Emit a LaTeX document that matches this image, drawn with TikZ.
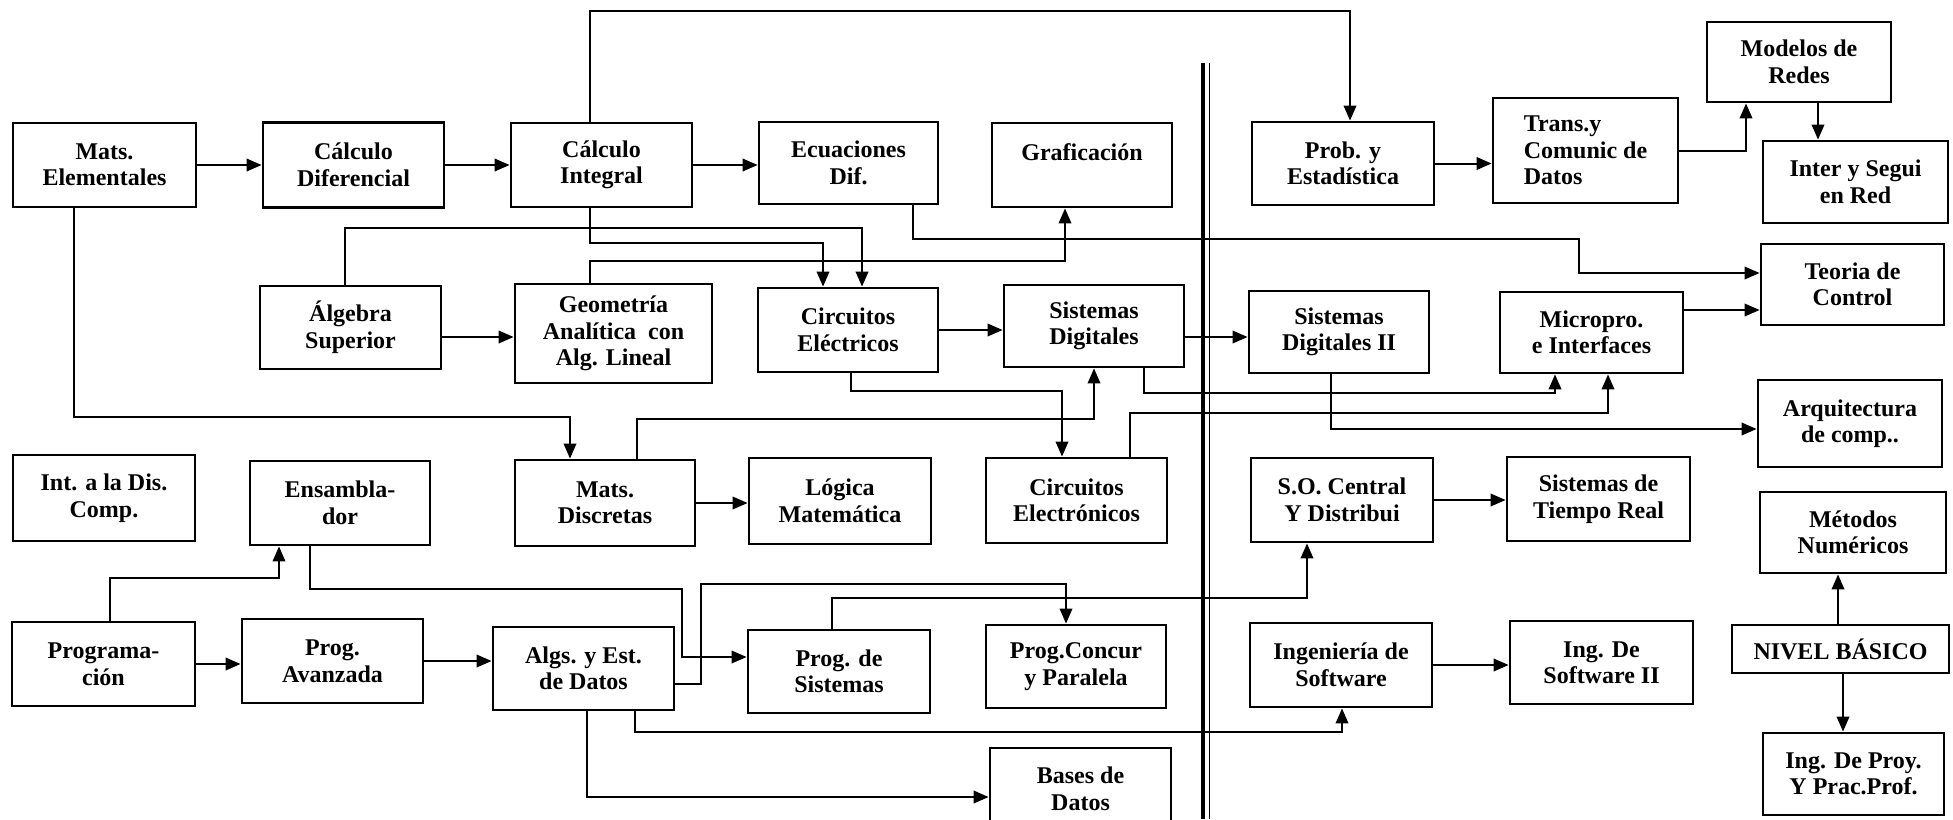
\documentclass[tikz,border=0pt]{standalone}
\usepackage{fontspec}
\setmainfont{Liberation Serif}
\usetikzlibrary{arrows.meta}
\newcommand\mybox[6]{\node[box,minimum width=#4pt,minimum height=#5pt] (#1) at (#2,#3) {#6};}
\begin{document}
\begin{tikzpicture}[x=1pt,y=-1pt,
  box/.style={draw, line width=2.8pt, inner sep=0pt, align=center, fill=white,
    font=\bfseries\fontsize{24}{26.5}\selectfont},
  arr/.style={line width=2pt, -{Triangle[length=15pt,width=12.5pt]}},
  divider/.style={line width=4pt}]
\fill[white] (0,0) rectangle (1953,819);
\clip (0,0) rectangle (1953,819);
% divider
\draw[divider] (1203,63) -- (1203,819);
\draw[line width=1.8pt] (1209.5,63) -- (1209.5,819);
% boxes
\mybox{me}{104.5}{165}{183}{84}{Mats.\\Elementales}
\mybox{cd}{353.5}{165}{181}{85}{Cálculo\\Diferencial}
\mybox{ci}{601.5}{165}{181}{84}{Cálculo\\Integral}
\mybox{ed}{848.5}{163}{179}{82}{Ecuaciones\\Dif.}
\mybox{gr}{1082}{165}{180}{84}{Graficación\\\mbox{}}
\mybox{pe}{1343}{163.5}{182}{83}{Prob. y\\Estadística}
\node[box,align=left,minimum width=185pt,minimum height=105pt] (tc) at (1585.5,150.5) {Trans.y\\Comunic de\\Datos};
\mybox{mr}{1799}{62}{184}{80}{Modelos de\\Redes}
\mybox{ir}{1855.5}{182}{185}{82}{Inter y Segui\\en Red}
\mybox{tcn}{1852.5}{284.5}{183}{81}{Teoria de\\Control}
\mybox{as}{350.5}{327.5}{181}{83}{Álgebra\\Superior}
\mybox{ga}{613.5}{333.5}{197}{99}{Geometría\\Analítica~ con\\Alg. Lineal}
\mybox{ce}{848}{330}{180}{84}{Circuitos\\Eléctricos}
\mybox{sd}{1094}{326}{180}{82}{Sistemas\\Digitales}
\mybox{sd2}{1339}{332}{180}{82}{Sistemas\\Digitales II}
\mybox{mi}{1591.5}{332.5}{183}{81}{Micropro.\\e Interfaces}
\mybox{ar}{1850}{423.5}{184}{87}{Arquitectura\\de comp..}
\mybox{id}{104}{498}{182}{86}{Int. a la Dis.\\Comp.}
\mybox{en}{340}{503}{180}{84}{Ensambla-\\dor}
\mybox{md}{605}{503}{180}{86}{Mats.\\Discretas}
\mybox{lm}{840}{501}{182}{86}{Lógica\\Matemática}
\mybox{cel}{1076.5}{500.5}{181}{85}{Circuitos\\Electrónicos}
\mybox{so}{1342}{500}{182}{84}{S.O. Central\\Y Distribui}
\mybox{str}{1598.5}{499}{183}{84}{Sistemas de\\Tiempo Real}
\mybox{mn}{1853}{532.5}{186}{81}{Métodos\\Numéricos}
\mybox{pr}{103.5}{664}{183}{84}{Programa-\\ción}
\mybox{pa}{332.5}{661}{181}{84}{Prog.\\Avanzada}
\mybox{ae}{583.5}{668.5}{181}{83}{Algs. y Est.\\de Datos}
\mybox{ps}{839}{671.5}{182}{83}{Prog. de\\Sistemas}
\mybox{pc}{1076}{666.5}{180}{83}{Prog.Concur\\y Paralela}
\mybox{is}{1341}{665}{182}{84}{Ingeniería de\\Software}
\mybox{is2}{1601.5}{662.5}{183}{83}{Ing. De\\Software II}
\mybox{nb}{1840.5}{649}{217}{48}{NIVEL BÁSICO}
\mybox{ip}{1853.5}{774}{181}{82}{Ing. De Proy.\\Y Prac.Prof.}
\mybox{bd}{1080.5}{789}{181}{82}{Bases de\\Datos}
% connectors
\draw[arr] (me.east) -- (me.east -| cd.west);
\draw[arr] (cd.east) -- (cd.east -| ci.west);
\draw[arr] (ci.east) -- (ci.east -| ed.west);
\draw[arr] ([xshift=-11.5pt]ci.north) |- ([xshift=7pt,yshift=110pt]pe.north) -- ([xshift=7pt]pe.north);
\draw[arr] (pe.east) -- (pe.east -| tc.west);
\draw[arr] (tc.east) -| ([xshift=-53pt]mr.south);
\draw[arr] ([xshift=19pt]mr.south) -- ([xshift=-37.5pt]ir.north);
\draw[arr] ([xshift=64.5pt]ed.south) |- ([xshift=-181pt,yshift=45.5pt]tcn.west) |- ([yshift=11.5pt]tcn.west);
\draw[arr] ([yshift=22.5pt]mi.east) -- ([yshift=-25.5pt]tcn.west);
\draw[arr] ([xshift=-5.5pt]as.north) |- ([xshift=14pt,yshift=59pt]ce.north) -- ([xshift=14pt]ce.north);
\draw[arr] ([xshift=-11.5pt]ci.south) |- ([xshift=-25pt,yshift=44pt]ce.north) -- ([xshift=-25pt]ce.north);
\draw[arr] ([xshift=-23.5pt]ga.north) |- ([xshift=-17pt,yshift=-53pt]gr.south) -- ([xshift=-17pt]gr.south);
\draw[arr] ([yshift=-9.5pt]as.east) -- ([yshift=-3.5pt]ga.west);
\draw[arr] (ce.east) -- (ce.east -| sd.west);
\draw[arr] ([yshift=-11pt]sd.east) -- ([yshift=-5pt]sd2.west);
\draw[arr] ([xshift=3pt]ce.south) |- ([xshift=-14.5pt,yshift=66pt]cel.north) -- ([xshift=-14.5pt]cel.north);
\draw[arr] ([xshift=32pt]md.north) |- ([yshift=-51pt]sd.south) -- (sd.south);
\draw[arr] ([xshift=-30.5pt]me.south) |- ([xshift=-35pt,yshift=42pt]md.north) -- ([xshift=-35pt]md.north);
\draw[arr] ([xshift=50pt]sd.south) |- ([xshift=-36.5pt,yshift=-19pt]mi.south) -- ([xshift=-36.5pt]mi.south);
\draw[arr] ([xshift=53.5pt]cel.north) |- ([xshift=16.5pt,yshift=-39pt]mi.south) -- ([xshift=16.5pt]mi.south);
\draw[arr] ([xshift=-8pt]sd2.south) |- ([yshift=-5.5pt]ar.west);
\draw[arr] (md.east) -- (md.east -| lm.west);
\draw[arr] (so.east) -- (so.east -| str.west);
\draw[arr] ([xshift=6.5pt]pr.north) |- ([xshift=-61pt,yshift=-32pt]en.south) -- ([xshift=-61pt]en.south);
\draw[arr] (pr.east) -- (pr.east -| pa.west);
\draw[arr] (pa.east) -- (pa.east -| ae.west);
\draw[arr] ([xshift=-30pt]en.south) |- ([xshift=-65pt,yshift=82.5pt]ps.west) |- ([yshift=14.5pt]ps.west);
\draw[arr] ([yshift=-15.5pt]ae.east) -| ([xshift=-375pt,yshift=40pt]pc.north) -| ([xshift=-10pt]pc.north);
\draw[arr] ([xshift=-7pt]ps.north) |- ([xshift=-35pt,yshift=-55pt]so.south) -- ([xshift=-35pt]so.south);
\draw[arr] ([xshift=51.5pt]ae.south) |- ([xshift=1pt,yshift=-24pt]is.south) -- ([xshift=1pt]is.south);
\draw[arr] ([xshift=3.5pt]ae.south) |- ([yshift=-8pt]bd.west);
\draw[arr] (is.east) -- (is.east -| is2.west);
\draw[arr] ([xshift=-2.5pt]nb.north) -- ([xshift=-15pt]mn.south);
\draw[arr] ([xshift=2.5pt]nb.south) -- ([xshift=-10.5pt]ip.north);
\end{tikzpicture}
\end{document}
